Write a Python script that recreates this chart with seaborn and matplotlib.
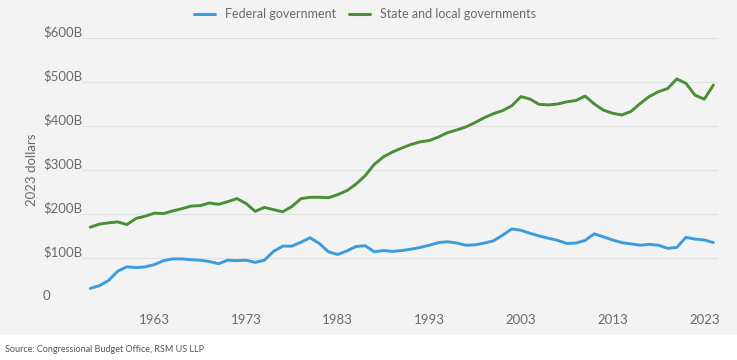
import numpy as np
import pandas as pd
import matplotlib
matplotlib.use("Agg")
import matplotlib.pyplot as plt
import seaborn as sns
from matplotlib.patches import Rectangle

# values, billions of 2023 dollars
years = list(range(1956, 2025))
federal = [31, 37, 49, 70, 80, 78, 80, 85, 94, 98,
           98, 96, 95, 92, 87, 95, 94, 95, 90, 95,
           115, 127, 127, 136, 146, 133, 114, 108, 116, 126,
           128, 114, 117, 115, 117, 120, 124, 129, 135, 137,
           134, 129, 130, 134, 139, 152, 166, 163, 156, 150,
           145, 140, 133, 134, 140, 155, 148, 141, 135, 132,
           129, 131, 129, 122, 124, 147, 143, 141, 135]
state_local = [170, 177, 180, 182, 176, 190, 195, 202, 201, 207,
               212, 218, 219, 225, 222, 228, 235, 224, 206, 215,
               210, 205, 217, 235, 238, 238, 237, 244, 253, 268,
               287, 313, 330, 341, 350, 358, 364, 367, 375, 385,
               391, 398, 408, 419, 428, 435, 446, 467, 461, 449,
               448, 450, 455, 458, 468, 450, 436, 429, 425, 433,
               451, 467, 478, 485, 507, 497, 470, 461, 493]
series_names = ["Federal government", "State and local governments"]
colors = ["#3D9CDD", "#4B8E36"]
y_ticks = [0, 100, 200, 300, 400, 500, 600]
y_labels = ["0", "$100B", "$200B", "$300B", "$400B", "$500B", "$600B"]
x_ticks = [1963, 1973, 1983, 1993, 2003, 2013, 2023]

df = pd.DataFrame({
    "year": years * 2,
    "value": federal + state_local,
    "series": [series_names[0]] * len(years) + [series_names[1]] * len(years),
})

sns.set_style("white")
plt.rcParams["font.family"] = ["Lato", "DejaVu Sans"]
bg = "#f3f3f3"
txt = "#6b6b6b"

fig = plt.figure(figsize=(7.37, 3.6), dpi=100, facecolor="white")
fig.patches.append(Rectangle((0, 25 / 360), 1, 1, transform=fig.transFigure,
                             facecolor=bg, edgecolor="none", zorder=-10))
ax = fig.add_axes([82 / 737, 1 - 302 / 360, (718 - 82) / 737, (302 - 38) / 360])
ax.set_facecolor(bg)

sns.lineplot(data=df, x="year", y="value", hue="series", palette=colors,
             linewidth=2.1, ax=ax, legend=False)

ax.set_xlim(1955.1, 2024.5)
ax.set_ylim(0, 600)
ax.set_yticks(y_ticks)
ax.set_yticklabels(y_labels)
ax.set_xticks(x_ticks)
ax.set_xticklabels([str(x) for x in x_ticks])
for lab in ax.get_yticklabels():
    lab.set_horizontalalignment("left")
    lab.set_verticalalignment("bottom")
ax.tick_params(axis="y", length=0, pad=28, labelsize=9.5, labelcolor=txt)
ax.tick_params(axis="x", length=0, pad=9, labelsize=9.5, labelcolor=txt)
ax.grid(axis="y", color="#e1e1e1", linewidth=0.8)
ax.grid(axis="x", visible=False)
for s in ax.spines.values():
    s.set_visible(False)
ax.set_xlabel("")
ax.set_ylabel("2023 dollars", fontsize=9.5, color=txt)
ax.yaxis.set_label_coords((38 - 82) / 636, 0.5)

handles = [plt.Line2D([], [], color=c, linewidth=2.2) for c in colors]
fig.legend(handles, series_names, loc="center", bbox_to_anchor=(0.495, 1 - 14 / 360),
           ncol=2, frameon=False, fontsize=9, labelcolor=txt,
           handlelength=1.7, columnspacing=1.0, handletextpad=0.8)

fig.text(5 / 737, 1 - 350 / 360, "Source: Congressional Budget Office, RSM US LLP",
         fontsize=6.5, color="#555555", va="center", ha="left")

fig.savefig("out.png", dpi=100, facecolor="white")
